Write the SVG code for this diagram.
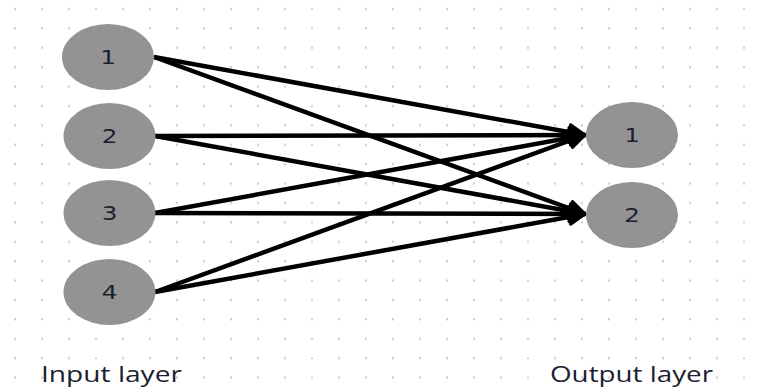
<svg xmlns="http://www.w3.org/2000/svg" width="764" height="388" viewBox="0 0 764 388">
  <defs>
    <pattern id="dots" patternUnits="userSpaceOnUse" x="0" y="0" width="27" height="19.4">
      <rect x="14" y="8" width="2" height="2" fill="#c6cad3"/>
    </pattern>
    <marker id="arrow" markerUnits="userSpaceOnUse" markerWidth="22" markerHeight="20" refX="18" refY="10" orient="auto">
      <path d="M2,2.5 L18,10 L2,17.5 z" fill="#000" stroke="#000" stroke-width="3" stroke-linejoin="round"/>
    </marker>
    <style>
      .node ellipse { fill: #939393; }
      .node text { font-family: "DejaVu Sans", sans-serif; font-size: 19px; fill: #1c2130; text-anchor: middle; }
      .edge { stroke: #000; stroke-width: 4.5; fill: none; marker-end: url(#arrow); }
      .label { font-family: "Open Sans", "Noto Sans", sans-serif; font-size: 21px; fill: #1c2130; }
    </style>
  </defs>
  <rect x="0" y="0" width="764" height="388" fill="#ffffff"/>
  <rect x="0" y="0" width="764" height="388" fill="url(#dots)"/>

  <g id="connectors">
    <line class="edge" x1="154" y1="57" x2="585" y2="135"/>
    <line class="edge" x1="154" y1="57" x2="585" y2="214"/>
    <line class="edge" x1="155" y1="136" x2="585" y2="135"/>
    <line class="edge" x1="155" y1="136" x2="585" y2="214"/>
    <line class="edge" x1="155" y1="213" x2="585" y2="135"/>
    <line class="edge" x1="155" y1="213" x2="585" y2="214"/>
    <line class="edge" x1="155" y1="292" x2="585" y2="135"/>
    <line class="edge" x1="155" y1="292" x2="585" y2="214"/>
  </g>

  <g id="input-1" class="node">
    <ellipse cx="108" cy="57" rx="46" ry="33"/>
    <text transform="translate(108,57) scale(1.3,1)" x="0" y="7">1</text>
  </g>
  <g id="input-2" class="node">
    <ellipse cx="109.5" cy="136" rx="46" ry="33"/>
    <text transform="translate(109.5,136) scale(1.3,1)" x="0" y="7">2</text>
  </g>
  <g id="input-3" class="node">
    <ellipse cx="109.5" cy="213" rx="46" ry="33"/>
    <text transform="translate(109.5,213) scale(1.3,1)" x="0" y="7">3</text>
  </g>
  <g id="input-4" class="node">
    <ellipse cx="109.5" cy="292" rx="46" ry="33"/>
    <text transform="translate(109.5,292) scale(1.3,1)" x="0" y="7">4</text>
  </g>
  <g id="output-1" class="node">
    <ellipse cx="632" cy="135" rx="46" ry="33"/>
    <text transform="translate(632,135) scale(1.3,1)" x="0" y="7">1</text>
  </g>
  <g id="output-2" class="node">
    <ellipse cx="632" cy="215" rx="46" ry="33"/>
    <text transform="translate(632,215) scale(1.3,1)" x="0" y="7">2</text>
  </g>

  <g id="labels">
    <text class="label" x="41" y="382" textLength="141" lengthAdjust="spacingAndGlyphs">Input layer</text>
    <text class="label" x="550" y="382" textLength="163" lengthAdjust="spacingAndGlyphs">Output layer</text>
  </g>
</svg>
